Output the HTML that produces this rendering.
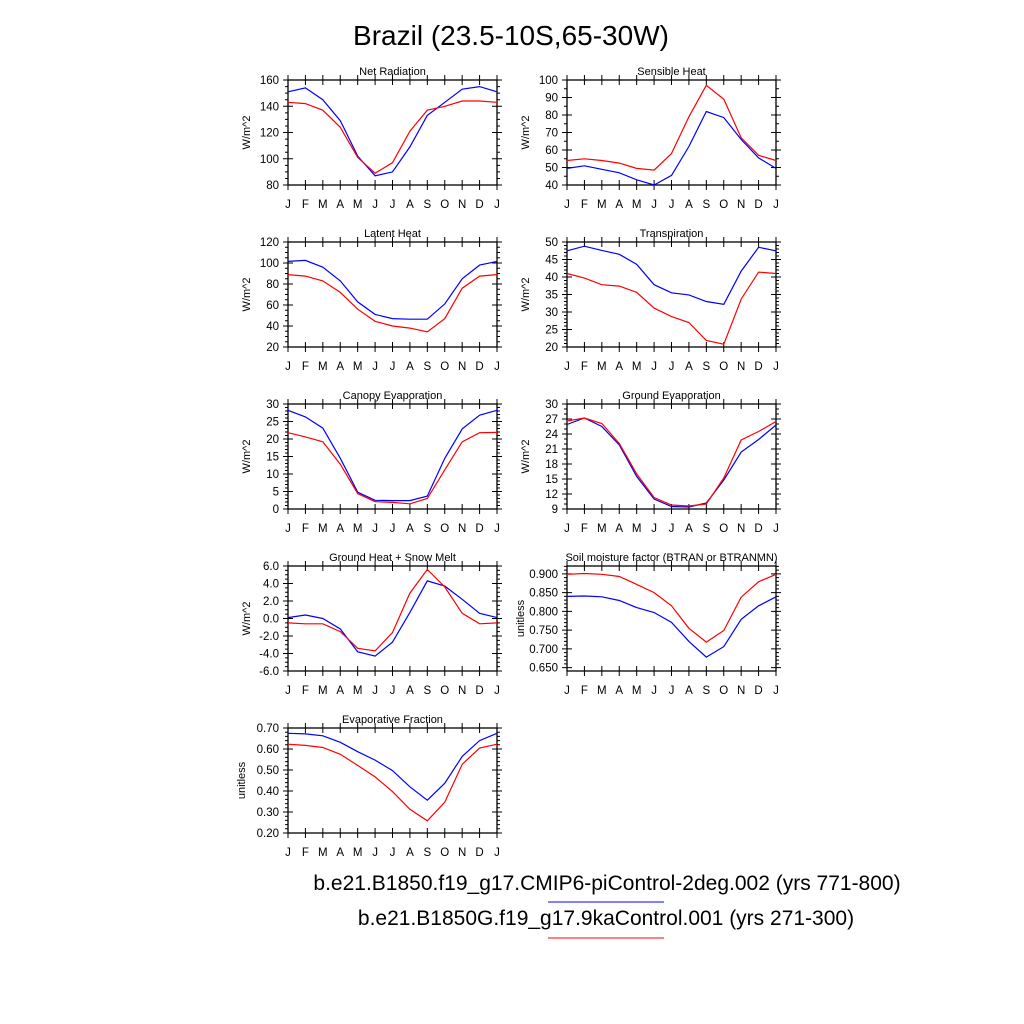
<!DOCTYPE html>
<html><head><meta charset="utf-8"><style>
body{margin:0;background:#fff;}
svg{display:block;font-family:"Liberation Sans",sans-serif;}
</style></head><body>
<svg id="c" width="1024" height="1024" viewBox="0 0 1024 1024">
<text x="511" y="45" font-size="28" text-anchor="middle">Brazil (23.5-10S,65-30W)</text>
<text x="607" y="890" font-size="21" text-anchor="middle">b.e21.B1850.f19_g17.CMIP6-piControl-2deg.002 (yrs 771-800)</text>
<line x1="548" y1="902" x2="664" y2="902" stroke="#00f" stroke-width="1"/>
<text x="606" y="925" font-size="21" text-anchor="middle">b.e21.B1850G.f19_g17.9kaControl.001 (yrs 271-300)</text>
<line x1="548" y1="938" x2="664" y2="938" stroke="#f00" stroke-width="1"/>
</svg>
<script>
const months = ["J","F","M","A","M","J","J","A","S","O","N","D","J"];
const netRadBlue = [151,154,145,129,102,87,90,109,133,143,153,155,151];
const netRadRed = [143,142,137,124,101,89,97,121,137,140,144,144,143];
const sensBlue = [49.5,51,49,47,43,40,45.5,62,82,78.5,66,55.5,49.5];
const sensRed = [54,55,54,52.5,49.5,48.5,58,79,97,89,67,57,54];
const latBlue = [101.5,102.5,96,83,63,51,47,46.5,46.5,61,85,98,101.5];
const latRed = [89,87.5,83,72,56,44.5,40,38,34.5,47,76,87.5,89];
const trBlue = [47.5,48.8,47.6,46.5,43.6,37.8,35.5,34.9,33,32.2,41.7,48.5,47.5];
const trRed = [41,39.7,37.8,37.4,35.6,31.1,28.7,27,21.9,20.8,33.7,41.4,41];
const canBlue = [28.2,26.3,23.1,14.5,4.8,2.5,2.4,2.4,3.7,14.5,22.9,26.8,28.2];
const canRed = [21.8,20.6,19.2,12.8,4.4,2.1,1.9,1.5,3,11.2,19.2,21.8,21.9];
const geBlue = [25.9,27.2,25.5,21.8,15.5,11,9.5,9.4,10.2,14.8,20.4,22.9,25.8];
const geRed = [26.6,27.2,26.1,22.1,16,11.3,9.8,9.6,10,15.2,22.8,24.5,26.5];
const ghBlue = [0.1,0.4,0,-1.2,-3.8,-4.3,-2.7,0.7,4.3,3.7,2.2,0.6,0.1];
const ghRed = [-0.5,-0.6,-0.6,-1.5,-3.4,-3.7,-1.6,2.9,5.6,3.6,0.6,-0.6,-0.5];
const btBlue = [.84,.841,.839,.829,.81,.797,.771,.72,.678,.706,.779,.815,.839];
const btRed = [.899,.901,.899,.893,.872,.85,.815,.755,.718,.749,.838,.879,.899];
const efBlue = [.675,.672,.663,.632,.587,.547,.497,.42,.356,.437,.565,.64,.675];
const efRed = [.623,.617,.607,.575,.522,.467,.397,.313,.258,.347,.527,.605,.623];

const panels = [
 {name:"net-radiation",title:"Net Radiation",x:288,y:80,min:80,max:160,ticks:[80,100,120,140,160],dec:0,minor:4,yl:"W/m^2",b:netRadBlue,r:netRadRed},
 {name:"sensible-heat",title:"Sensible Heat",x:567,y:80,min:40,max:100,ticks:[40,50,60,70,80,90,100],dec:0,minor:2,yl:"W/m^2",b:sensBlue,r:sensRed},
 {name:"latent-heat",title:"Latent Heat",x:288,y:242,min:20,max:120,ticks:[20,40,60,80,100,120],dec:0,minor:4,yl:"W/m^2",b:latBlue,r:latRed},
 {name:"transpiration",title:"Transpiration",x:567,y:242,min:20,max:50,ticks:[20,25,30,35,40,45,50],dec:0,minor:5,yl:"W/m^2",b:trBlue,r:trRed},
 {name:"canopy-evaporation",title:"Canopy Evaporation",x:288,y:404,min:0,max:30,ticks:[0,5,10,15,20,25,30],dec:0,minor:5,yl:"W/m^2",b:canBlue,r:canRed},
 {name:"ground-evaporation",title:"Ground Evaporation",x:567,y:404,min:9,max:30,ticks:[9,12,15,18,21,24,27,30],dec:0,minor:3,yl:"W/m^2",b:geBlue,r:geRed},
 {name:"ground-heat",title:"Ground Heat + Snow Melt",x:288,y:566,min:-6,max:6,ticks:[-6,-4,-2,0,2,4,6],dec:1,minor:4,yl:"W/m^2",b:ghBlue,r:ghRed},
 {name:"soil-moisture",title:"Soil moisture factor (BTRAN or BTRANMN)",x:567,y:566,min:0.641,max:0.921,ticks:[0.65,0.7,0.75,0.8,0.85,0.9],dec:3,minor:5,yl:"unitless",b:btBlue,r:btRed},
 {name:"evaporative-fraction",title:"Evaporative Fraction",x:288,y:728,min:0.2,max:0.7,ticks:[0.2,0.3,0.4,0.5,0.6,0.7],dec:2,minor:5,yl:"unitless",b:efBlue,r:efRed}
];
const NS="http://www.w3.org/2000/svg";
const svg=document.getElementById('c');
function mk(tag,attrs,parent){const e=document.createElementNS(NS,tag);for(const k in attrs)e.setAttribute(k,attrs[k]);(parent||svg).appendChild(e);return e;}
const W=209,H=105;
panels.forEach(p=>{
 const g=mk('g',{});
 
 
 const xs=i=>p.x+i*W/12;
 const ys=v=>p.y+H-(v-p.min)/(p.max-p.min)*H;
 let d="";
 for(let i=0;i<13;i++){const x=xs(i);d+=`M${x} ${p.y+H+5}V${p.y+H-5}M${x} ${p.y+5}V${p.y-5}`;}
 const step=p.ticks[1]-p.ticks[0];
 p.ticks.forEach((t,k)=>{const y=ys(t);d+=`M${p.x-5} ${y}H${p.x+5}M${p.x+W-5} ${y}H${p.x+W+5}`;
  for(let m=1;m<p.minor;m++){const v=t+m*step/p.minor;if(v<=p.max){const yy=ys(v);d+=`M${p.x-3} ${yy}H${p.x}M${p.x+W} ${yy}H${p.x+W+3}`;}}
  if(k==0){for(let m=1;m<p.minor;m++){const v=t-m*step/p.minor;if(v>=p.min){const yy=ys(v);d+=`M${p.x-3} ${yy}H${p.x}M${p.x+W} ${yy}H${p.x+W+3}`;}}}
  const tx=mk('text',{x:p.x-9,y:y+4,'font-size':11.5,'text-anchor':'end'},g);tx.textContent=t.toFixed(p.dec);
  
  
 });
 mk('path',{d:d,stroke:'#000','stroke-width':1,fill:'none'},g);
 const fr=mk('rect',{x:p.x,y:p.y,width:W,height:H,fill:'none',stroke:'#000','stroke-width':1.3},g);
 
 
 months.forEach((m,i)=>{const t=mk('text',{x:xs(i),y:p.y+H+23,'font-size':11.5,'text-anchor':'middle'},g);t.textContent=m;
  
  });
 const tt=mk('text',{x:p.x+W/2,y:p.y-5,'font-size':11,'text-anchor':'middle'},g);tt.textContent=p.title;
 
 
 const yl=mk('text',{x:0,y:0,'font-size':11,'text-anchor':'middle',transform:`translate(${p.x-(p.dec>=2?43:38)},${p.y+H/2}) rotate(-90)`},g);yl.textContent=p.yl;
 
 
 [[p.b,'#00f','blue'],[p.r,'#f00','red']].forEach(([arr,c,n])=>{
  const pts=arr.map((v,i)=>xs(i).toFixed(1)+','+ys(v).toFixed(1)).join(' ');
  const l=mk('polyline',{points:pts,fill:'none',stroke:c,'stroke-width':1.2},g);
  
  
 });
});
</script>
</body></html>
